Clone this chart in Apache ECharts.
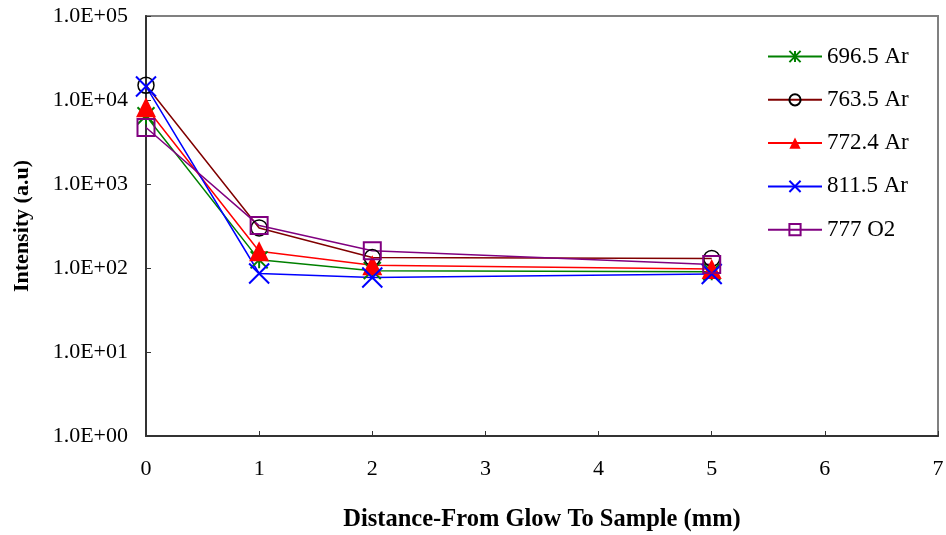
<!DOCTYPE html>
<html><head><meta charset="utf-8">
<script src="https://cdn.jsdelivr.net/npm/echarts@6/dist/echarts.min.js"></script>
<style>html,body{margin:0;padding:0;background:#fff}#c{width:946px;height:535px}</style>
</head><body><div id="c"></div>
<script>
var xValues = [0, 1, 2, 5];
var s6965 = [6500, 125, 93, 90];
var s7635 = [15000, 300, 133, 130];
var s7724 = [8200, 158, 108, 97];
var s8115 = [14500, 86, 77, 85];
var s777 = [4700, 320, 160, 110];
var seriesNames = ['696.5 Ar', '763.5 Ar', '772.4 Ar', '811.5 Ar', '777 O2'];
var yTicks = ['1.0E+00','1.0E+01','1.0E+02','1.0E+03','1.0E+04','1.0E+05'];

function pairs(vals){ return xValues.map(function(x,i){ return [x, vals[i]]; }); }
var FONT = 'Liberation Serif';
var STAR = 'path://M0,0L10,10M10,0L0,10M5,0L5,10';
var CROSS = 'path://M0,0L10,10M10,0L0,10';

var chart = echarts.init(document.getElementById('c'));
chart.setOption({
  animation: false,
  grid: {left: 146, right: 8, top: 16, bottom: 99, show: true, borderColor: '#808080', borderWidth: 2,
         containLabel: false, outerBoundsMode: 'none'},
  legend: {
    orient: 'vertical', left: 762, top: 40, itemWidth: 54, itemHeight: 14, itemGap: 20.3,
    textStyle: {fontFamily: FONT, fontSize: 23, color: '#000'},
    data: seriesNames
  },
  xAxis: {
    type: 'value', min: 0, max: 7, interval: 1,
    name: 'Distance-From Glow To Sample (mm)', nameLocation: 'middle', nameGap: 71,
    nameTextStyle: {fontFamily: FONT, fontSize: 24.5, fontWeight: 'bold', color: '#000'},
    axisLine: {lineStyle: {color: '#333', width: 2}},
    axisTick: {inside: true, length: 5, lineStyle: {color: '#333'}},
    axisLabel: {fontFamily: FONT, fontSize: 22, color: '#000', margin: 22},
    splitLine: {show: false}
  },
  yAxis: {
    type: 'log', logBase: 10, min: 1, max: 100000,
    name: 'Intensity (a.u)', nameLocation: 'middle', nameGap: 113,
    nameTextStyle: {fontFamily: FONT, fontSize: 22, fontWeight: 'bold', color: '#000'},
    axisLine: {lineStyle: {color: '#333', width: 2}},
    axisTick: {inside: true, length: 5, lineStyle: {color: '#333'}},
    axisLabel: {fontFamily: FONT, fontSize: 22, color: '#000', margin: 18,
      formatter: function(v){ var e = Math.round(Math.log10(v)); return yTicks[e] || ''; }},
    splitLine: {show: false}
  },
  series: [
    {name: seriesNames[0], type: 'line', data: pairs(s6965), symbol: STAR, symbolSize: 17,
     lineStyle: {color: '#008000', width: 1.5},
     itemStyle: {color: '#008000', borderColor: '#008000', borderWidth: 2}},
    {name: seriesNames[1], type: 'line', data: pairs(s7635), symbol: 'circle', symbolSize: 16,
     lineStyle: {color: '#800000', width: 1.5},
     itemStyle: {color: 'rgba(255,255,255,0)', borderColor: '#000', borderWidth: 1.5}},
    {name: seriesNames[2], type: 'line', data: pairs(s7724), symbol: 'triangle', symbolSize: 20,
     lineStyle: {color: '#FF0000', width: 1.5},
     itemStyle: {color: '#FF0000', borderColor: '#FF0000', borderWidth: 0}},
    {name: seriesNames[3], type: 'line', data: pairs(s8115), symbol: CROSS, symbolSize: 20,
     lineStyle: {color: '#0000FF', width: 1.5},
     itemStyle: {color: '#0000FF', borderColor: '#0000FF', borderWidth: 2}},
    {name: seriesNames[4], type: 'line', data: pairs(s777), symbol: 'rect', symbolSize: 17,
     lineStyle: {color: '#800080', width: 1.5},
     itemStyle: {color: 'rgba(255,255,255,0)', borderColor: '#800080', borderWidth: 2}}
  ]
});
</script></body></html>
